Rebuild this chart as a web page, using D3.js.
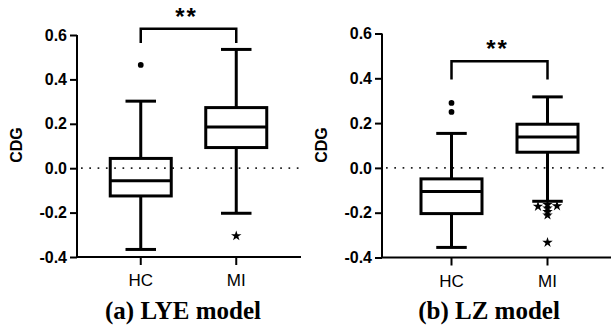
<!DOCTYPE html>
<html>
<head>
<meta charset="utf-8">
<script src="https://cdn.jsdelivr.net/npm/d3@7"></script>
<style>
  body { margin: 0; background: #fff; }
  svg { display: block; }
</style>
</head>
<body>
<div id="chart"></div>
<script>
var categories = ['HC', 'MI'];
var yTicks = [-0.4, -0.2, 0.0, 0.2, 0.4, 0.6];

// (a) LYE model, one value per category
var lyeLow = [-0.366, -0.203];
var lyeQ1 = [-0.125, 0.093];
var lyeMedian = [-0.057, 0.186];
var lyeQ3 = [0.044, 0.273];
var lyeHigh = [0.302, 0.535];
var lyeOutliersHC = [0.465];
var lyeOutliersMI = [-0.305];
var lyeBracket = [0.628, 0.564];

// (b) LZ model
var lzLow = [-0.355, -0.149];
var lzQ1 = [-0.204, 0.070];
var lzMedian = [-0.105, 0.138];
var lzQ3 = [-0.049, 0.195];
var lzHigh = [0.154, 0.317];
var lzOutliersHC = [0.290, 0.250];
var lzOutliersMI = [-0.164, -0.172, -0.170, -0.180, -0.196, -0.211, -0.333];
var lzBracket = [0.476, 0.395];

var significance = ['**', '**'];
var titles = ['(a) LYE model', '(b) LZ model'];

function boxes(low, q1, med, q3, high, outHC, outMI) {
    return categories.map(function(c, i) {
        return { cat: c, low: low[i], q1: q1[i], med: med[i], q3: q3[i], high: high[i],
                 out: i === 0 ? outHC : outMI };
    });
}

var panels = [
    { ox: 77, xEnd: 301, top: 35, bottom: 257, band: [93, 284], titleX: 183, labelY: 145,
      data: boxes(lyeLow, lyeQ1, lyeMedian, lyeQ3, lyeHigh, lyeOutliersHC, lyeOutliersMI),
      bracket: lyeBracket, sig: significance[0], title: titles[0] },
    { ox: 382, xEnd: 611, top: 33.5, bottom: 257.5, band: [403.5, 595.5], titleX: 489, labelY: 145,
      data: boxes(lzLow, lzQ1, lzMedian, lzQ3, lzHigh, lzOutliersHC, lzOutliersMI),
      bracket: lzBracket, sig: significance[1], title: titles[1] }
];

var svg = d3.select('#chart').append('svg')
    .attr('width', 611)
    .attr('height', 331);

panels.forEach(function(p) {
    var y = d3.scaleLinear().domain([-0.4, 0.6]).range([p.bottom, p.top]);
    var x = d3.scaleBand().domain(categories).range(p.band).padding(0);
    var boxW = 61;

    var g = svg.append('g');

    // dotted zero line
    g.append('line')
        .attr('x1', p.ox + 4).attr('x2', p.xEnd - 2)
        .attr('y1', y(0)).attr('y2', y(0))
        .attr('stroke', '#222')
        .attr('stroke-width', 1.7)
        .attr('stroke-dasharray', '1.7,6.6');

    // y axis
    var ya = g.append('g')
        .attr('transform', 'translate(' + p.ox + ',0)')
        .call(d3.axisLeft(y).tickValues(yTicks).tickSize(7).tickPadding(3)
            .tickFormat(function(d) { return d.toFixed(1); }));
    ya.select('.domain').attr('stroke-width', 2).attr('d', 'M0,' + y(0.6) + 'V' + p.bottom);
    ya.selectAll('.tick line').attr('stroke-width', 2);
    ya.selectAll('text')
        .attr('font-family', 'Liberation Sans, Arial, sans-serif')
        .attr('font-weight', 'bold')
        .attr('font-size', 16)
        .attr('fill', '#000');

    // x axis
    var xa = g.append('g')
        .attr('transform', 'translate(0,' + p.bottom + ')')
        .call(d3.axisBottom(x).tickSize(8).tickPadding(9).tickSizeOuter(0));
    xa.select('.domain').attr('d', 'M' + p.ox + ',0H' + p.xEnd).attr('stroke-width', 2);
    xa.selectAll('.tick line').attr('stroke-width', 2);
    xa.selectAll('text')
        .attr('font-family', 'Liberation Sans, Arial, sans-serif')
        .attr('font-size', 17)
        .attr('fill', '#000');

    // y label
    g.append('text')
        .attr('transform', 'translate(' + (p.ox - 55) + ',' + p.labelY + ') rotate(-90)')
        .attr('text-anchor', 'middle')
        .attr('font-family', 'Liberation Sans, Arial, sans-serif')
        .attr('font-weight', 'bold')
        .attr('font-size', 16)
        .text('CDG');

    var bx = g.selectAll('.box')
        .data(p.data)
        .enter().append('g')
        .attr('class', 'box')
        .attr('transform', function(d) { return 'translate(' + (x(d.cat) + x.bandwidth() / 2) + ',0)'; });

    // whiskers
    bx.append('line')
        .attr('y1', function(d) { return y(d.high); })
        .attr('y2', function(d) { return y(d.q3); })
        .attr('stroke', '#000').attr('stroke-width', 3);
    bx.append('line')
        .attr('y1', function(d) { return y(d.q1); })
        .attr('y2', function(d) { return y(d.low); })
        .attr('stroke', '#000').attr('stroke-width', 3);
    bx.selectAll('.cap')
        .data(function(d) { return [d.high, d.low]; })
        .enter().append('line')
        .attr('class', 'cap')
        .attr('x1', -boxW / 4).attr('x2', boxW / 4)
        .attr('y1', function(v) { return y(v); })
        .attr('y2', function(v) { return y(v); })
        .attr('stroke', '#000').attr('stroke-width', 3);

    bx.append('rect')
        .attr('x', -boxW / 2)
        .attr('width', boxW)
        .attr('y', function(d) { return y(d.q3); })
        .attr('height', function(d) { return y(d.q1) - y(d.q3); })
        .attr('fill', 'none')
        .attr('stroke', '#000')
        .attr('stroke-width', 3);
    bx.append('line')
        .attr('x1', -boxW / 2).attr('x2', boxW / 2)
        .attr('y1', function(d) { return y(d.med); })
        .attr('y2', function(d) { return y(d.med); })
        .attr('stroke', '#000').attr('stroke-width', 3);

    // outliers, spread sideways when they collide
    bx.each(function(d, i) {
        var placed = [];
        var pts = d.out.map(function(v) {
            var py = y(v), off = 0;
            var tries = [0, -1, 1, -2, 2];
            for (var t = 0; t < tries.length; t++) {
                var hit = placed.some(function(q) { return q.off === tries[t] && Math.abs(q.py - py) < 3; });
                if (!hit) { off = tries[t]; break; }
            }
            var pt = { py: py, off: off };
            placed.push(pt);
            return pt;
        });
        var sym = i === 0 ? d3.symbol().type(d3.symbolCircle).size(26)
                          : d3.symbol().type(d3.symbolStar).size(34);
        d3.select(this).selectAll('.out')
            .data(pts)
            .enter().append('path')
            .attr('class', 'out')
            .attr('d', sym)
            .attr('transform', function(q) { return 'translate(' + (q.off * 9.5) + ',' + q.py + ')'; })
            .attr('fill', '#000');
    });

    // significance bracket
    var xl = x(categories[0]) + x.bandwidth() / 2,
        xr = x(categories[1]) + x.bandwidth() / 2;
    g.append('path')
        .attr('d', 'M' + xl + ',' + y(p.bracket[1]) + 'V' + y(p.bracket[0]) +
                   'H' + xr + 'V' + y(p.bracket[1]))
        .attr('fill', 'none')
        .attr('stroke', '#000')
        .attr('stroke-width', 2.5);
    g.append('text')
        .attr('x', (xl + xr) / 2 - 2)
        .attr('y', y(p.bracket[0]) - 4)
        .attr('text-anchor', 'middle')
        .attr('font-family', 'Liberation Sans, Arial, sans-serif')
        .attr('font-weight', 'bold')
        .attr('font-size', 24)
        .attr('letter-spacing', 2)
        .text(p.sig);

    g.append('text')
        .attr('x', p.titleX)
        .attr('y', 319)
        .attr('text-anchor', 'middle')
        .attr('font-family', 'Liberation Serif, Times New Roman, serif')
        .attr('font-weight', 'bold')
        .attr('font-size', 25)
        .text(p.title);
});
</script>
</body>
</html>
